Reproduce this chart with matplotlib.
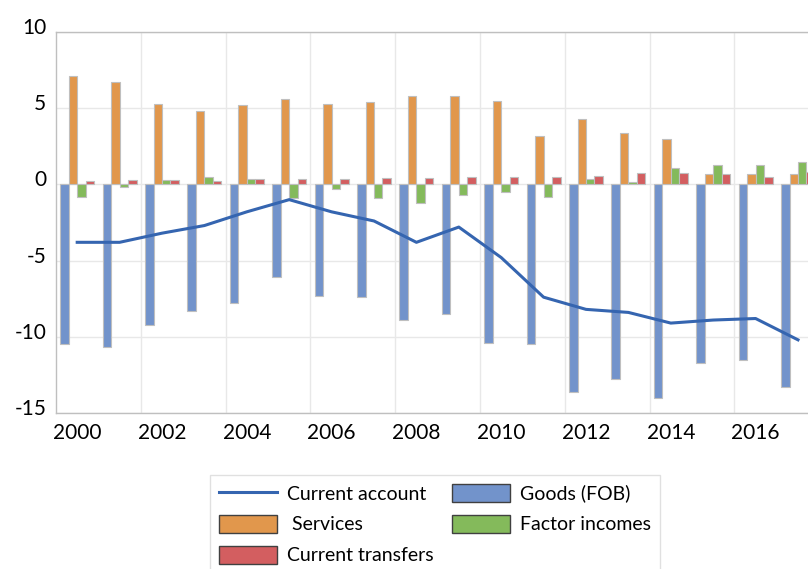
# current account balance and its components, 2000-2017

import numpy as np
import matplotlib
matplotlib.use("Agg")
import matplotlib.pyplot as plt
import matplotlib.transforms as mtransforms
from matplotlib.patches import Patch
from matplotlib.lines import Line2D

plt.rcParams['font.family'] = ['Lato', 'DejaVu Sans']

# data
years = list(range(2000, 2018))
current_account = [-3.8, -3.8, -3.2, -2.7, -1.8, -1.0, -1.8, -2.4, -3.8, -2.8,
                   -4.8, -7.4, -8.2, -8.4, -9.1, -8.9, -8.8, -10.2]
goods = [-10.5, -10.7, -9.2, -8.3, -7.8, -6.1, -7.3, -7.4, -8.9, -8.5,
         -10.4, -10.5, -13.6, -12.8, -14.0, -11.7, -11.5, -13.3]
services = [7.1, 6.7, 5.3, 4.8, 5.2, 5.6, 5.3, 5.4, 5.8, 5.8,
            5.5, 3.2, 4.3, 3.4, 3.0, 0.7, 0.7, 0.7]
factor_incomes = [-0.8, -0.2, 0.3, 0.5, 0.35, -0.9, -0.3, -0.9, -1.2, -0.7,
                  -0.5, -0.8, 0.35, 0.15, 1.05, 1.3, 1.3, 1.45]
current_transfers = [0.2, 0.3, 0.27, 0.22, 0.33, 0.33, 0.37, 0.42, 0.4, 0.5,
                     0.47, 0.5, 0.53, 0.73, 0.73, 0.66, 0.5, 0.8]

series_labels = ["Goods (FOB)", " Services", "Factor incomes", "Current transfers"]
colors = ["#7293CB", "#E1974C", "#84BA5B", "#D35E60"]
line_color = "#3565B0"

fig = plt.figure(figsize=(8.08, 5.69), dpi=100)
# the plot area runs past the right edge of the picture (cropped like the original)
ax = fig.add_axes([56 / 808, 1 - 413 / 569, 763.2 / 808, 381 / 569])

x = np.arange(len(years))
w = 0.2
bar_data = [goods, services, factor_incomes, current_transfers]
for i, (vals, col) in enumerate(zip(bar_data, colors)):
    ax.bar(x + (i - 1.5) * w, vals, width=w, color=col,
           edgecolor="#BFBFBF", linewidth=0.8, zorder=2)

ax.plot(x, current_account, color=line_color, linewidth=2.2, zorder=3)

ax.set_xlim(-0.5, len(years) - 0.5)
ax.set_ylim(-15, 10)
ax.set_yticks([-15, -10, -5, 0, 5, 10])
ax.set_yticklabels(["-15", "-10", "-5", "0", "5", "10"])
ax.set_xticks(x[::2])
ax.set_xticklabels([str(y) for y in years[::2]])
ax.set_xticks(np.arange(1.5, len(years) - 1, 2), minor=True)

ax.grid(axis='y', which='major', color="#E8E8E8", linewidth=1.0, zorder=0)
ax.grid(axis='x', which='minor', color="#E8E8E8", linewidth=1.0, zorder=0)
ax.set_axisbelow(True)

for s in ax.spines.values():
    s.set_color("#BFBFBF")
    s.set_linewidth(1.0)

ax.tick_params(axis='both', which='both', length=0, labelsize=15, colors="black")
ax.tick_params(axis='y', pad=7)
ax.tick_params(axis='x', pad=7)

# y labels sit a bit above their gridlines in the original
offset = mtransforms.ScaledTranslation(0, 6 / 100, fig.dpi_scale_trans)
for lab in ax.get_yticklabels():
    lab.set_transform(lab.get_transform() + offset)

handles = [
    Line2D([0], [0], color=line_color, linewidth=2.2),
    Patch(facecolor=colors[1], edgecolor="#404040"),
    Patch(facecolor=colors[3], edgecolor="#404040"),
    Patch(facecolor=colors[0], edgecolor="#404040"),
    Patch(facecolor=colors[2], edgecolor="#404040"),
]
labels = ["Current account", series_labels[1], series_labels[3],
          series_labels[0], series_labels[2]]
leg = fig.legend(handles, labels, loc="upper left",
                 bbox_to_anchor=(210 / 808, 1 - 475 / 569),
                 ncol=2, fontsize=14, frameon=True, fancybox=False,
                 handlelength=3.0, handleheight=1.08, handletextpad=0.5,
                 labelspacing=0.62, columnspacing=0.95, borderpad=0.45,
                 borderaxespad=0)
leg.get_frame().set_edgecolor("#D9D9D9")
leg.get_frame().set_linewidth(1.0)

fig.savefig("out.png", dpi=100)
